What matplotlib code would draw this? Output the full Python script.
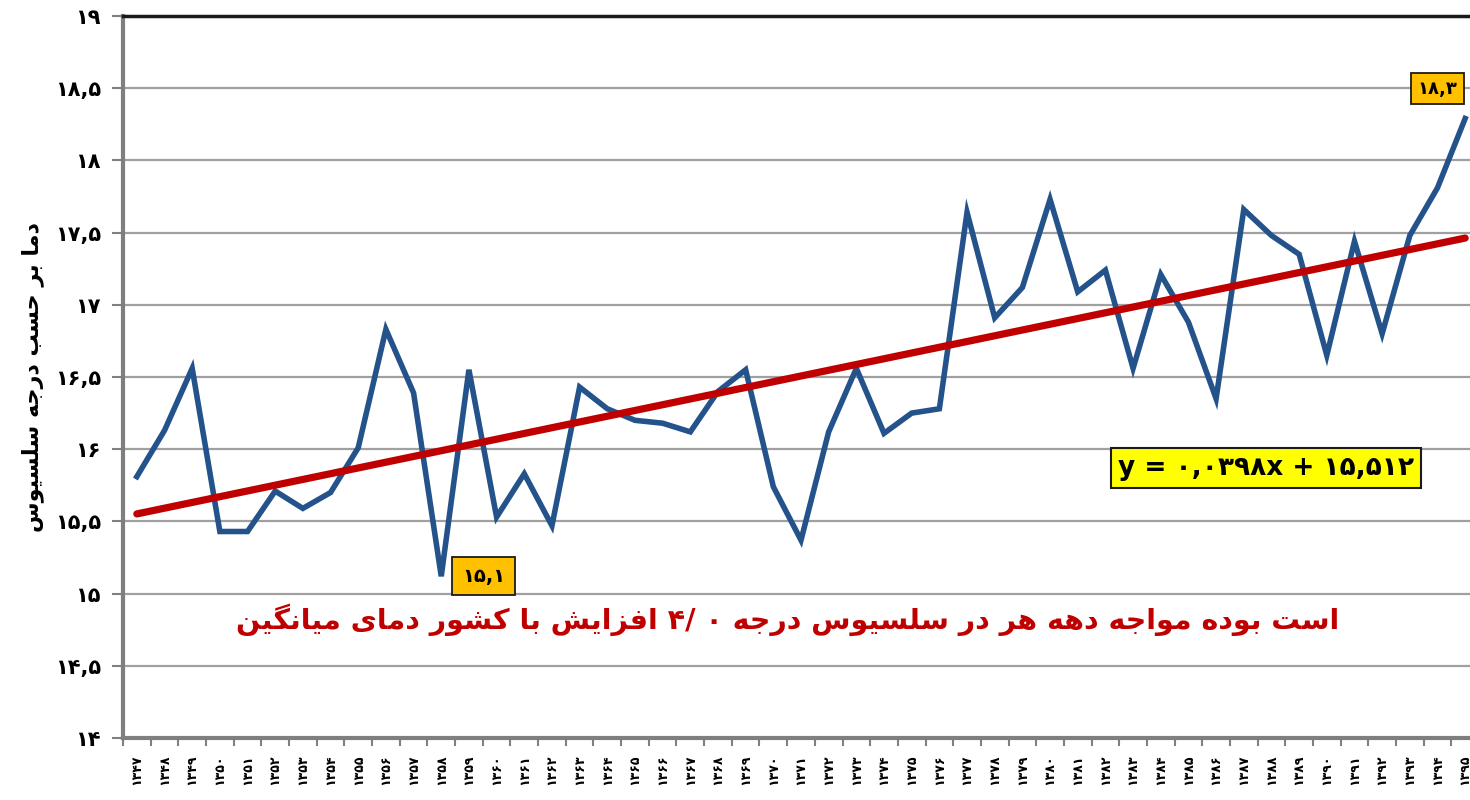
import numpy as np
import matplotlib
matplotlib.use("Agg")
import matplotlib.pyplot as plt
from matplotlib.ticker import FixedLocator

# ---------------- data ----------------
years = list(range(1347, 1396))
temps = [15.81, 16.13, 16.56, 15.43, 15.43, 15.71, 15.59, 15.70, 16.01, 16.83,
         16.39, 15.12, 16.55, 15.53, 15.83, 15.47, 16.43, 16.28, 16.20, 16.18,
         16.12, 16.40, 16.55, 15.74, 15.37, 16.12, 16.56, 16.11, 16.25, 16.28,
         17.64, 16.91, 17.12, 17.73, 17.09, 17.24, 16.56, 17.21, 16.88, 16.35,
         17.66, 17.48, 17.35, 16.65, 17.44, 16.80, 17.48, 17.81, 18.29]
trend_slope = 0.0398
trend_intercept = 15.512
y_ticks = [14, 14.5, 15, 15.5, 16, 16.5, 17, 17.5, 18, 18.5, 19]
label_min = "۱۵,۱"
label_max = "۱۸,۳"
equation = "y = ۰,۰۳۹۸x + ۱۵,۵۱۲"
ylabel_words = ["دما", "بر", "حسب", "درجه", "سلسیوس"]
note_words = ["میانگین", "دمای", "کشور", "با", "افزایش", "۴/", "۰", "درجه",
              "سلسیوس", "در", "هر", "دهه", "مواجه", "بوده", "است"]

# ---------------- simple Persian shaping ----------------
FORMS = {
    'ا': ('\uFE8D', '\uFE8E', None, None),
    'ب': ('\uFE8F', '\uFE90', '\uFE91', '\uFE92'),
    'ت': ('\uFE95', '\uFE96', '\uFE97', '\uFE98'),
    'ج': ('\uFE9D', '\uFE9E', '\uFE9F', '\uFEA0'),
    'ح': ('\uFEA1', '\uFEA2', '\uFEA3', '\uFEA4'),
    'د': ('\uFEA9', '\uFEAA', None, None),
    'ر': ('\uFEAD', '\uFEAE', None, None),
    'ز': ('\uFEAF', '\uFEB0', None, None),
    'س': ('\uFEB1', '\uFEB2', '\uFEB3', '\uFEB4'),
    'ش': ('\uFEB5', '\uFEB6', '\uFEB7', '\uFEB8'),
    'ف': ('\uFED1', '\uFED2', '\uFED3', '\uFED4'),
    'ل': ('\uFEDD', '\uFEDE', '\uFEDF', '\uFEE0'),
    'م': ('\uFEE1', '\uFEE2', '\uFEE3', '\uFEE4'),
    'ن': ('\uFEE5', '\uFEE6', '\uFEE7', '\uFEE8'),
    'ه': ('\uFEE9', '\uFEEA', '\uFEEB', '\uFEEC'),
    'و': ('\uFEED', '\uFEEE', None, None),
    'ی': ('\uFBFC', '\uFBFD', '\uFBFE', '\uFBFF'),
    'ک': ('\uFB8E', '\uFB8F', '\uFB90', '\uFB91'),
    'گ': ('\uFB92', '\uFB93', '\uFB94', '\uFB95'),
}


def shape_word(w):
    out = []
    for k, c in enumerate(w):
        f = FORMS.get(c)
        if f is None:
            out.append(c)
            continue
        prev = w[k - 1] if k > 0 else None
        nxt = w[k + 1] if k + 1 < len(w) else None
        jp = prev in FORMS and FORMS[prev][2] is not None
        jn = nxt in FORMS and f[2] is not None
        if jp and jn:
            out.append(f[3])
        elif jp:
            out.append(f[1])
        elif jn:
            out.append(f[2])
        else:
            out.append(f[0])
    return ''.join(out)


def has_letters(w):
    return any(c in FORMS for c in w)


def vis_word(w):
    return shape_word(w)[::-1] if has_letters(w) else w


PDIG = str.maketrans("0123456789.", "۰۱۲۳۴۵۶۷۸۹,")


def fa_num(v):
    return ("%g" % v).translate(PDIG)


ylabel_text = ' '.join(vis_word(w) for w in reversed(ylabel_words))
note_text = ' '.join(vis_word(w) for w in note_words)

# ---------------- plot ----------------
fig = plt.figure(figsize=(14.7, 8), dpi=100)
fig.patch.set_facecolor("white")
W, H = 1470, 800
left, right, top, bottom = 123, 1479, 16, 738
ax = fig.add_axes([left / W, 1 - bottom / H, (right - left) / W, (bottom - top) / H])

x = np.arange(len(years))
ax.plot(x, temps, color="#24528A", lw=4.0, solid_joinstyle="miter", zorder=3)
trend = trend_intercept + trend_slope * (x + 1)
ax.plot(x, trend, color="#C00000", lw=5.2, solid_capstyle="round", zorder=4)

ax.set_xlim(-0.5, len(years) - 0.5)
ax.set_ylim(14, 19)

ax.set_yticks(y_ticks)
ax.set_yticklabels([fa_num(v) for v in y_ticks], fontsize=15, fontweight="bold",
                   family="DejaVu Sans")
ax.yaxis.grid(True, color="#A0A0A0", lw=1.6)
ax.set_axisbelow(True)
ax.tick_params(axis="y", length=8, width=1.5, color="#808080", pad=8)

ax.set_xticks(x)
ax.set_xticklabels([str(yv).translate(PDIG) for yv in years], rotation=90,
                   fontsize=9, fontweight="bold")
ax.xaxis.set_minor_locator(FixedLocator(np.arange(-0.5, len(years), 1)))
ax.tick_params(axis="x", which="major", length=0, pad=12)
ax.tick_params(axis="x", which="minor", length=6, width=1.5, color="#808080")

for s in ["left", "bottom"]:
    ax.spines[s].set_color("#7F7F7F")
    ax.spines[s].set_linewidth(3)
ax.spines["top"].set_color("#1A1A1A")
ax.spines["top"].set_linewidth(2.5)
ax.spines["right"].set_visible(False)

ax.set_ylabel(ylabel_text, fontsize=16, fontweight="bold", family="DejaVu Sans")
ax.yaxis.set_label_coords(-0.058, 0.5)

# annotations
imin = int(np.argmin(temps))
imax = int(np.argmax(temps))
box_kw = dict(boxstyle="square,pad=0.5", fc="#FFC000", ec="#1A1A1A", lw=1.3)
ax.annotate(label_min, xy=(imin, temps[imin]), xytext=(15, 0),
            textcoords="offset points", ha="left", va="center",
            fontsize=14, fontweight="bold", bbox=box_kw, zorder=5)
box_kw2 = dict(boxstyle="square,pad=0.35", fc="#FFC000", ec="#1A1A1A", lw=1.3)
ax.annotate(label_max, xy=(imax, temps[imax]), xytext=(-20, 15),
            textcoords="offset points", ha="center", va="bottom",
            fontsize=13, fontweight="bold", bbox=box_kw2, zorder=5)

ax.text(40.8, 15.87, equation, ha="center", va="center", fontsize=19,
        fontweight="bold", zorder=5,
        bbox=dict(boxstyle="square,pad=0.27", fc="#FFFF00", ec="#1A1A1A", lw=1.5))

ax.text(23.5, 14.82, note_text, ha="center", va="center", fontsize=20.5,
        fontweight="bold", color="#C00000", zorder=5)

fig.savefig("out.png", dpi=100, facecolor="white")
